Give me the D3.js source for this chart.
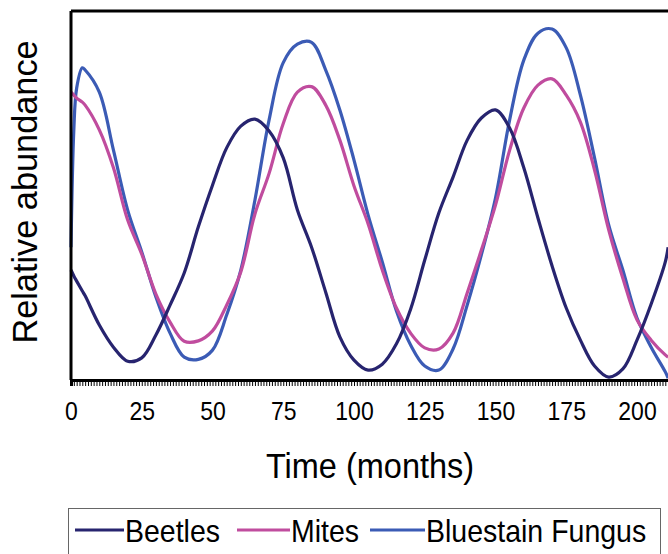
<!DOCTYPE html>
<html>
<head>
<meta charset="utf-8">
<script src="https://cdn.jsdelivr.net/npm/d3@7"></script>
<style>
  html, body { margin: 0; padding: 0; background: #fff; }
  svg { display: block; font-family: "Liberation Sans", Arial, Helvetica, sans-serif; }
</style>
</head>
<body>
<svg id="chart" width="668" height="554"></svg>
<script>
// ---- Data ----
const months = [0, 1, 2, 4, 5, 10, 15, 20, 25, 30, 35, 40, 45, 50, 55, 60, 65, 70, 75, 80, 85, 90, 95, 100,
  105, 110, 115, 120, 125, 130, 135, 140, 145, 150, 155, 160, 165, 170, 175, 180, 185, 190, 195, 200, 205, 210, 211];

const beetles = [29.8, 28.2, 26.8, 24.1, 22.8, 14.9, 8.9, 5.1, 6.0, 12.2, 20.3, 29.0, 41.5, 52.8, 62.9, 68.8, 70.7,
  67.5, 60.2, 46.1, 36.0, 23.8, 11.7, 5.4, 2.7, 4.3, 9.8, 19.2, 32.5, 45.3, 55.0, 65.0, 71.0, 73.2, 68.3, 57.5,
  43.9, 30.9, 19.5, 10.8, 3.8, 0.8, 3.0, 10.8, 20.6, 32.0, 36.0];

const mites = [78.0, 77.2, 76.4, 75.3, 74.5, 67.8, 57.5, 43.4, 34.1, 23.3, 15.7, 10.5, 10.6, 13.3, 20.3, 29.3, 45.0,
  56.0, 69.5, 78.0, 79.5, 74.5, 65.0, 52.6, 42.3, 29.8, 19.5, 12.7, 8.7, 8.4, 12.7, 23.6, 35.2, 47.4, 62.3, 73.7,
  79.9, 81.6, 77.2, 69.9, 56.9, 40.7, 27.6, 16.3, 10.8, 6.8, 6.2];

const fungus = [36.0, 67.8, 79.1, 84.6, 84.0, 78.0, 62.3, 46.1, 34.7, 22.5, 12.7, 6.2, 5.6, 8.1, 17.6, 29.8, 48.8,
  70.5, 86.0, 91.0, 91.5, 84.0, 73.2, 59.6, 44.7, 32.0, 18.7, 9.5, 3.8, 2.7, 8.4, 20.3, 33.9, 49.3, 70.5, 86.7,
  94.0, 95.1, 90.0, 77.2, 60.2, 42.0, 29.8, 16.8, 8.9, 2.2, 0.5];

const seriesNames = ["Beetles", "Mites", "Bluestain Fungus"];
const seriesColors = ["#27246f", "#c04c9e", "#3b5bb5"];
const xTickLabels = [0, 25, 50, 75, 100, 125, 150, 175, 200];
const xTitle = "Time (months)";
const yTitle = "Relative abundance";

// ---- Layout ----
const svg = d3.select("#chart");
const plotLeft = 71, plotTop = 11, plotBottom = 380;
const x = d3.scaleLinear().domain([0, 220]).range([plotLeft, plotLeft + 2.83 * 220]);
const y = d3.scaleLinear().domain([0, 100]).range([plotBottom, plotTop]);

svg.append("rect").attr("width", 668).attr("height", 554).attr("fill", "#fff");

// series lines
const seriesValues = [beetles, mites, fungus];
const line = d3.line()
  .x((d, i) => x(months[i]))
  .y(d => y(d))
  .curve(d3.curveCatmullRom.alpha(0.5));

const order = [2, 1, 0];
order.forEach(k => {
  svg.append("path")
    .datum(seriesValues[k])
    .attr("d", line)
    .attr("fill", "none")
    .attr("stroke", seriesColors[k])
    .attr("stroke-width", 3.2)
    .attr("stroke-linejoin", "round");
});

// frame: left and top lines
svg.append("line").attr("x1", plotLeft).attr("x2", plotLeft).attr("y1", plotTop).attr("y2", plotBottom)
  .attr("stroke", "#000").attr("stroke-width", 3);
svg.append("line").attr("x1", plotLeft).attr("x2", 668).attr("y1", plotTop).attr("y2", plotTop)
  .attr("stroke", "#000").attr("stroke-width", 3);

// minor ticks (every month)
const minorAxis = d3.axisBottom(x)
  .tickValues(d3.range(0, 221, 1))
  .tickSize(6)
  .tickFormat("");
const gMinor = svg.append("g").attr("transform", `translate(0,${plotBottom})`).call(minorAxis);
gMinor.select(".domain").attr("stroke", "#000").attr("stroke-width", 3);
gMinor.selectAll(".tick line").attr("stroke", "#000").attr("stroke-width", 1);

// labelled ticks (slightly tall glyphs, as in the reference)
const labelAxis = d3.axisBottom(x)
  .tickValues(xTickLabels)
  .tickSize(0)
  .tickPadding(0)
  .tickFormat(d3.format("d"));
const gLab = svg.append("g").attr("transform", `translate(0,${plotBottom})`).call(labelAxis);
gLab.select(".domain").remove();
gLab.selectAll("text")
  .attr("font-family", "Liberation Sans, Arial, sans-serif")
  .attr("font-size", 23)
  .attr("fill", "#000")
  .attr("dy", null)
  .attr("y", null)
  .attr("transform", "translate(0,40) scale(1,1.12)");

// axis titles
svg.append("text")
  .attr("transform", "translate(370,478) scale(1,1.1)")
  .attr("text-anchor", "middle")
  .attr("font-size", 32.5)
  .attr("fill", "#000")
  .text(xTitle);

svg.append("text")
  .attr("transform", "translate(37,192) rotate(-90) scale(1.04,1.08)")
  .attr("text-anchor", "middle")
  .attr("font-size", 33)
  .attr("fill", "#000")
  .text(yTitle);

// legend
const legend = svg.append("g");
legend.append("rect")
  .attr("x", 68.5).attr("y", 508.5).attr("width", 592).attr("height", 70)
  .attr("fill", "#fff").attr("stroke", "#666").attr("stroke-width", 1);
const legendPos = [{lx: 75, tx: 125}, {lx: 237, tx: 291}, {lx: 370, tx: 426}];
seriesNames.forEach((name, k) => {
  const p = legendPos[k];
  legend.append("line")
    .attr("x1", p.lx).attr("x2", p.tx - 1).attr("y1", 530).attr("y2", 530)
    .attr("stroke", seriesColors[k]).attr("stroke-width", 3);
  legend.append("text")
    .attr("transform", `translate(${p.tx},542) scale(1,1.08)`)
    .attr("font-size", 28.5)
    .attr("fill", "#000")
    .text(name);
});
</script>
</body>
</html>
